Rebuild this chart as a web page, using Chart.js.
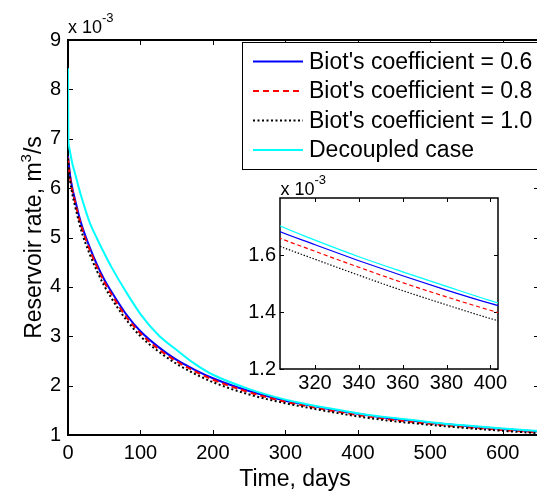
<!DOCTYPE html>
<html>
<head>
<meta charset="utf-8">
<script src="https://cdn.jsdelivr.net/npm/chart.js@4.4.0/dist/chart.umd.min.js"></script>
<style>
html, body { margin: 0; padding: 0; background: #fff; overflow: hidden; width: 537px; height: 493px }
#wrap { position: relative; width: 537px; height: 493px; overflow: hidden }
#main { position: absolute; left: 0; top: 0 }
#inset { position: absolute; left: 230px; top: 160px }
</style>
</head>
<body>
<div id="wrap">
  <canvas id="main" width="545" height="493"></canvas>
  <canvas id="inset" width="300" height="240"></canvas>
</div>
<script>
const FONT = "'Liberation Sans', Arial, Helvetica, sans-serif"

// time, days
const times = [0, 0.5, 1, 3, 6, 10, 15, 20, 30, 40, 50, 60, 80, 100, 125, 150, 175, 200, 250, 300, 320, 340, 360, 380, 400, 420, 450, 500, 550, 600, 650]
// reservoir rate, x 10^-3 m3/s
const biot06 = [6.65, 6.58, 6.5, 6.25, 6.0, 5.75, 5.45, 5.2, 4.8, 4.45, 4.15, 3.9, 3.45, 3.1, 2.78, 2.52, 2.32, 2.15, 1.89, 1.695, 1.636, 1.58, 1.527, 1.477, 1.43, 1.387, 1.33, 1.25, 1.18, 1.12, 1.07]
const biot08 = [6.62, 6.54, 6.45, 6.2, 5.95, 5.7, 5.4, 5.15, 4.75, 4.4, 4.1, 3.85, 3.4, 3.06, 2.74, 2.49, 2.29, 2.12, 1.865, 1.672, 1.613, 1.557, 1.503, 1.453, 1.406, 1.363, 1.305, 1.227, 1.16, 1.10, 1.05]
const biot10 = [6.6, 6.5, 6.4, 6.15, 5.88, 5.62, 5.32, 5.06, 4.66, 4.32, 4.02, 3.77, 3.34, 3.0, 2.69, 2.44, 2.24, 2.07, 1.82, 1.643, 1.585, 1.529, 1.475, 1.425, 1.377, 1.334, 1.28, 1.205, 1.14, 1.085, 1.035]
const decoupled = [8.43, 7.0, 6.88, 6.72, 6.5, 6.28, 6.0, 5.75, 5.3, 4.98, 4.68, 4.4, 3.9, 3.45, 3.02, 2.72, 2.44, 2.22, 1.93, 1.716, 1.652, 1.594, 1.541, 1.49, 1.44, 1.395, 1.345, 1.26, 1.19, 1.13, 1.08]

const labels = ["Biot's coefficient = 0.6", "Biot's coefficient = 0.8", "Biot's coefficient = 1.0", 'Decoupled case']

const mainXTicks = [0, 100, 200, 300, 400, 500, 600]
const mainYTicks = [1, 2, 3, 4, 5, 6, 7, 8, 9]
const insetXTicks = [320, 340, 360, 380, 400]
const insetYTicks = [1.2, 1.4, 1.6]

const SERIES = [
  { label: labels[0], values: biot06, color: '#0000ff', dash: [] },
  { label: labels[1], values: biot08, color: '#ff0000', dash: [6, 4] },
  { label: labels[2], values: biot10, color: '#000000', dash: [2, 2.5] },
  { label: labels[3], values: decoupled, color: '#00ffff', dash: [] }
]

function makeDatasets (lw, dashScale) {
  return SERIES.map((s, i) => ({
    label: s.label,
    data: times.map((t, k) => ({ x: t, y: s.values[k] })),
    borderColor: s.color,
    borderWidth: lw,
    borderDash: s.dash.map(d => d * dashScale),
    pointRadius: 0,
    fill: false,
    cubicInterpolationMode: 'monotone',
    order: SERIES.length - 1 - i
  }))
}

// axes box + inward tick marks, MATLAB style
const boxPlugin = {
  id: 'box',
  beforeDatasetsDraw (chart, args, o) {
    const { ctx, chartArea: a, scales: { x, y } } = chart
    ctx.save()
    if (o.fill) { ctx.fillStyle = '#fff'; ctx.fillRect(a.left, a.top, a.right - a.left, a.bottom - a.top) }
    ctx.strokeStyle = '#000'
    ctx.lineWidth = o.lw
    ctx.strokeRect(a.left, a.top, a.right - a.left, a.bottom - a.top)
    ctx.beginPath()
    x.ticks.forEach(t => {
      const px = Math.round(x.getPixelForValue(t.value)) + 0.5
      ctx.moveTo(px, a.bottom); ctx.lineTo(px, a.bottom - o.tl)
      ctx.moveTo(px, a.top); ctx.lineTo(px, a.top + o.tl)
    })
    y.ticks.forEach(t => {
      const py = Math.round(y.getPixelForValue(t.value)) + 0.5
      ctx.moveTo(a.left, py); ctx.lineTo(a.left + o.tl, py)
      ctx.moveTo(a.right, py); ctx.lineTo(a.right - o.tl, py)
    })
    ctx.lineWidth = 1
    ctx.stroke()
    ctx.restore()
  }
}

// "x 10^-3" multiplier above the y axis
function drawExponent (ctx, x0, base, big, small) {
  ctx.font = big + 'px ' + FONT
  ctx.textAlign = 'left'
  ctx.textBaseline = 'alphabetic'
  ctx.fillText('x 10', x0, base)
  const w = ctx.measureText('x 10').width
  ctx.font = small + 'px ' + FONT
  ctx.fillText('-3', x0 + w, base - 11)
}

const mainDecor = {
  id: 'mainDecor',
  afterDatasetsDraw (chart) {
    const { ctx } = chart
    ctx.save()
    // legend
    ctx.fillStyle = '#fff'
    ctx.fillRect(242.5, 42.5, 310, 127)
    ctx.strokeStyle = '#000'
    ctx.lineWidth = 1
    ctx.strokeRect(242.5, 42.5, 310, 127)
    SERIES.forEach((s, i) => {
      const yy = 61.5 + i * 29.5
      ctx.beginPath()
      ctx.strokeStyle = s.color
      ctx.lineWidth = 2
      ctx.setLineDash(s.dash)
      ctx.moveTo(253, yy); ctx.lineTo(303, yy)
      ctx.stroke()
      ctx.setLineDash([])
      ctx.fillStyle = '#000'
      ctx.font = '23px ' + FONT
      ctx.textAlign = 'left'
      ctx.textBaseline = 'middle'
      ctx.fillText(s.label, 309, yy + 1)
    })
    ctx.restore()
  },
  afterDraw (chart) {
    const { ctx, chartArea: a } = chart
    ctx.save()
    ctx.fillStyle = '#000'
    drawExponent(ctx, 68, 33, 18, 13)
    // x title
    ctx.font = '23px ' + FONT
    ctx.textAlign = 'center'
    ctx.textBaseline = 'alphabetic'
    ctx.fillText('Time, days', 295, 486)
    // y title with superscript
    const p1 = 'Reservoir rate, m', p2 = '3', p3 = '/s'
    ctx.font = '23px ' + FONT
    const w1 = ctx.measureText(p1).width, w3 = ctx.measureText(p3).width
    ctx.font = '15px ' + FONT
    const w2 = ctx.measureText(p2).width
    const total = w1 + w2 + w3
    ctx.translate(41, (a.top + a.bottom) / 2)
    ctx.rotate(-Math.PI / 2)
    ctx.textAlign = 'left'
    let xx = -total / 2
    ctx.font = '23px ' + FONT
    ctx.fillText(p1, xx, 0); xx += w1
    ctx.font = '15px ' + FONT
    ctx.fillText(p2, xx, -10); xx += w2
    ctx.font = '23px ' + FONT
    ctx.fillText(p3, xx, 0)
    ctx.restore()
  }
}

const insetDecor = {
  id: 'insetDecor',
  afterDraw (chart) {
    const { ctx } = chart
    ctx.save()
    ctx.fillStyle = '#000'
    drawExponent(ctx, 50.5, 35, 18, 13)
    ctx.restore()
  }
}

const TICK_FONT = { size: 20, family: FONT }

new Chart(document.getElementById('main'), {
  type: 'line',
  data: { datasets: makeDatasets(2, 1) },
  options: {
    responsive: false, animation: false, events: [],
    layout: { padding: { top: 40, right: 6, left: 0, bottom: 0 } },
    plugins: { legend: { display: false }, tooltip: { enabled: false }, box: { lw: 2, tl: 5, fill: false } },
    scales: {
      x: {
        type: 'linear', min: 0, max: 650,
        afterBuildTicks: s => { s.ticks = mainXTicks.map(v => ({ value: v })) },
        afterFit: s => { s.height = 58 },
        grid: { display: false, drawTicks: false }, border: { display: false },
        ticks: { color: '#000', font: TICK_FONT, padding: 6, maxRotation: 0, autoSkip: false, callback: v => String(v) }
      },
      y: {
        type: 'linear', min: 1, max: 9,
        afterBuildTicks: s => { s.ticks = mainYTicks.map(v => ({ value: v })) },
        afterFit: s => { s.width = 68 },
        grid: { display: false, drawTicks: false }, border: { display: false },
        ticks: { color: '#000', font: TICK_FONT, padding: 7, autoSkip: false, callback: v => String(v) }
      }
    }
  },
  plugins: [boxPlugin, mainDecor]
})

new Chart(document.getElementById('inset'), {
  type: 'line',
  data: { datasets: makeDatasets(1.2, 0.7) },
  options: {
    responsive: false, animation: false, events: [],
    layout: { padding: { top: 38, right: 32, left: 0, bottom: 0 } },
    plugins: { legend: { display: false }, tooltip: { enabled: false }, box: { lw: 1.5, tl: 4, fill: true } },
    scales: {
      x: {
        type: 'linear', min: 304, max: 403.5,
        afterBuildTicks: s => { s.ticks = insetXTicks.map(v => ({ value: v })) },
        afterFit: s => { s.height = 31 },
        grid: { display: false, drawTicks: false }, border: { display: false },
        ticks: { color: '#000', font: TICK_FONT, padding: 2, maxRotation: 0, autoSkip: false, callback: v => String(v) }
      },
      y: {
        type: 'linear', min: 1.2, max: 1.8,
        afterBuildTicks: s => { s.ticks = insetYTicks.map(v => ({ value: v })) },
        afterFit: s => { s.width = 50 },
        grid: { display: false, drawTicks: false }, border: { display: false },
        ticks: { color: '#000', font: TICK_FONT, padding: 4, autoSkip: false, callback: v => v.toFixed(1) }
      }
    }
  },
  plugins: [boxPlugin, insetDecor]
})
</script>
</body>
</html>
